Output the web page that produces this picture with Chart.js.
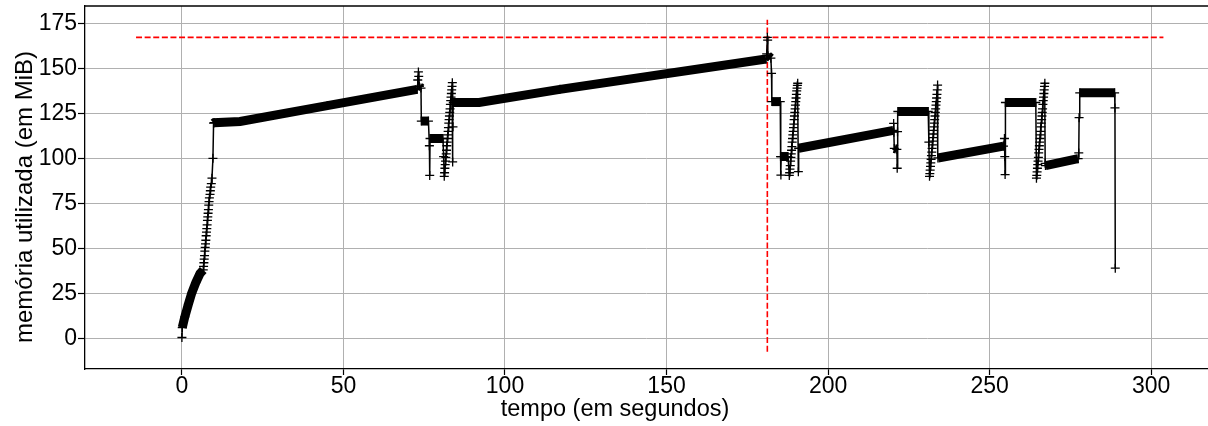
<!DOCTYPE html>
<html lang="pt">
<head>
<meta charset="UTF-8">
<title>Memória utilizada ao longo do tempo</title>
<style>
  body { margin: 0; background: #fff; }
  #wrap { width: 1208px; height: 426px; }
</style>
</head>
<body>
<div id="wrap"><canvas id="memChart" width="1208" height="426"></canvas></div>

<script src="https://cdn.jsdelivr.net/npm/chart.js"></script>
<script>
  // amostras (tempo em s, memória em MiB), por trecho
  const tempoSubida = [0.0, 0.1, 0.9, 2.0, 3.0, 4.3, 5.6, 6.6];
  const memSubida   = [0.5, 6, 12, 19, 25, 31, 36, 38];

  const tempoEscada1 = [6.7, 6.8, 6.9, 7.0, 7.1, 7.2, 7.3, 7.4, 7.5, 7.6, 7.7, 7.8, 7.9, 8.0, 8.1, 8.2, 8.3, 8.4, 8.5, 8.7, 8.8, 8.9, 9.1, 9.3];
  const memEscada1   = [40, 42, 44, 46, 48.5, 50.5, 52.5, 54.5, 57, 59, 61, 63, 65.5, 67.5, 69.5, 71.5, 74, 76, 78, 80, 82, 84, 86, 89];

  const tempoFase1 = [9.6, 9.8, 10.0, 18, 45, 72.8, 73.0, 73.2, 73.3, 73.5, 74.0, 74.1, 76.3, 76.6, 76.7, 76.8, 80.8, 81.0];
  const memFase1   = [100, 119.5, 119.8, 120.5, 129.3, 138.3, 143.5, 148, 145.5, 140, 139, 120.7, 120.7, 107, 90.5, 111, 111, 101];

  const tempoEscada2 = [81.2, 81.3, 81.4, 81.5, 81.6, 81.7, 81.8, 81.9, 82.0, 82.1, 82.2, 82.3, 82.4, 82.5, 82.6, 82.7, 82.8, 82.9, 83.0, 83.1, 83.2, 83.3, 83.4, 83.5, 83.6, 83.7];
  const memEscada2   = [90, 92, 94.5, 96.5, 98.5, 100.5, 102.5, 104.5, 107, 109, 111, 113, 115, 117, 119.5, 121.5, 123.5, 125.5, 127.5, 130, 132, 134, 136, 138, 140, 142];

  const tempoFase2 = [83.8, 83.9, 84.0, 92, 117, 180.8, 181.0, 181.2, 181.3, 181.4, 182.3, 182.5, 182.6, 185.2, 185.3, 185.4, 185.5, 187.6, 188.0];
  const memFase2   = [98, 117.5, 131, 131, 138.3, 155.2, 158, 167.2, 165.7, 157, 155.6, 147.2, 131.5, 131.5, 101, 90.7, 101, 101, 90.5];

  const tempoEscada3 = [188.1, 188.2, 188.3, 188.4, 188.5, 188.6, 188.7, 188.8, 188.9, 189.0, 189.1, 189.2, 189.3, 189.4, 189.5, 189.6, 189.7, 189.8, 189.9, 190.0, 190.1, 190.2, 190.3, 190.4, 190.5, 190.6];
  const memEscada3   = [92, 94, 96, 98.5, 100.5, 102.5, 104.5, 106.5, 109, 111, 113, 115, 117, 119, 121.5, 123.5, 125.5, 127.5, 129.5, 131.5, 133.5, 135.5, 137.5, 139, 140.5, 141.7];

  const tempoFase3 = [190.8, 190.9, 220.2, 220.3, 220.4, 220.5, 221.3, 221.4, 221.5, 221.6, 231.0, 231.2, 231.4];
  const memFase3   = [92.6, 105.6, 115.5, 119.4, 114.5, 105.5, 105, 94.5, 114.8, 126, 126, 109, 90];

  const tempoEscada4 = [231.5, 231.6, 231.7, 231.8, 231.9, 232.0, 232.1, 232.2, 232.3, 232.4, 232.5, 232.6, 232.7, 232.8, 232.9, 233.0, 233.1, 233.2, 233.3, 233.4, 233.5, 233.6, 233.7, 233.8, 233.9];
  const memEscada4   = [91.5, 93.5, 95.5, 97.5, 99.5, 101.5, 103.5, 105.5, 107.5, 109.5, 111.5, 113.5, 115.5, 117.5, 119.5, 121.5, 123.5, 125.5, 127.5, 129.5, 131.5, 133.5, 135.5, 138, 140.7];

  const tempoFase4 = [234.0, 254.3, 254.6, 254.7, 254.8, 254.9, 264.3, 264.5];
  const memFase4   = [100.2, 106.8, 111, 101, 91, 131, 131, 89];

  const tempoEscada5 = [264.6, 264.7, 264.8, 264.9, 265.0, 265.1, 265.2, 265.3, 265.4, 265.5, 265.6, 265.7, 265.8, 265.9, 266.0, 266.1, 266.2, 266.3, 266.4, 266.5, 266.6, 266.7, 266.8, 266.9, 267.0, 267.1];
  const memEscada5   = [90.5, 92.5, 94.5, 96.5, 98.5, 100.5, 103, 105, 107, 109, 111, 113, 115, 117.5, 119.5, 121.5, 123.5, 125.5, 127.5, 130, 132, 134, 136, 138, 140, 141.7];

  const tempoFase5 = [267.2, 267.3, 277.4, 277.6, 277.7, 277.9, 288.7, 288.8, 288.9];
  const memFase5   = [97.2, 96, 99.8, 103, 122.6, 136.4, 136.4, 128, 39];

  // pico de memória (linhas tracejadas vermelhas)
  const picoMem = 167.2;
  const picoTempo = 181.2;
  const linhaHorizX = [-14.2, 303.8];
  const linhaVertY = [-7.4, 176.9];

  const ticksX = [0, 50, 100, 150, 200, 250, 300];
  const ticksY = [0, 25, 50, 75, 100, 125, 150, 175];

  const tituloX = 'tempo (em segundos)';
  const tituloY = 'memória utilizada (em MiB)';

  const tempo = [].concat(tempoSubida, tempoEscada1, tempoFase1, tempoEscada2, tempoFase2,
                          tempoEscada3, tempoFase3, tempoEscada4, tempoFase4, tempoEscada5, tempoFase5);
  const memoria = [].concat(memSubida, memEscada1, memFase1, memEscada2, memFase2,
                            memEscada3, memFase3, memEscada4, memFase4, memEscada5, memFase5);

  const pontos = tempo.map((t, i) => ({ x: t, y: memoria[i] }));

  // borda superior do eixo (estilo matplotlib)
  const molduraTopo = {
    id: 'molduraTopo',
    afterDraw(chart) {
      const { ctx, chartArea: a } = chart;
      ctx.save();
      ctx.strokeStyle = '#000';
      ctx.lineWidth = 1.3;
      ctx.beginPath();
      ctx.moveTo(a.left, a.top);
      ctx.lineTo(a.right, a.top);
      ctx.stroke();
      ctx.restore();
    }
  };

  // títulos dos eixos (no original não ficam centrados na área visível)
  const titulosEixos = {
    id: 'titulosEixos',
    afterDraw(chart) {
      const ctx = chart.ctx;
      ctx.save();
      ctx.fillStyle = '#000';
      ctx.textAlign = 'center';
      ctx.textBaseline = 'middle';
      ctx.font = '23.5px "Liberation Sans", Arial, sans-serif';
      ctx.fillText(tituloX, 615, 410);
      ctx.translate(25, 197);
      ctx.rotate(-Math.PI / 2);
      ctx.font = '24px "Liberation Sans", Arial, sans-serif';
      ctx.fillText(tituloY, 0, 0);
      ctx.restore();
    }
  };

  const fonte = { family: 'Liberation Sans, Arial, sans-serif', size: 23 };

  new Chart(document.getElementById('memChart'), {
    type: 'line',
    data: {
      datasets: [
        {
          data: pontos,
          borderColor: '#000',
          borderWidth: 1.5,
          pointStyle: 'cross',
          pointRadius: 4.5,
          pointBorderWidth: 1.3,
          pointBorderColor: '#000',
          pointBackgroundColor: '#000',
          tension: 0,
          // amostras densas viram uma faixa grossa, trechos íngremes ficam finos
          segment: {
            borderWidth: c => {
              const dx = Math.abs(c.p1.x - c.p0.x);
              const dy = Math.abs(c.p1.y - c.p0.y);
              return dy > 5 * dx ? 1.5 : 9;
            }
          }
        },
        {
          data: linhaHorizX.map(x => ({ x: x, y: picoMem })),
          borderColor: '#ff0000',
          borderWidth: 1.6,
          borderDash: [6, 2.6],
          pointRadius: 0
        },
        {
          data: linhaVertY.map(y => ({ x: picoTempo, y: y })),
          borderColor: '#ff0000',
          borderWidth: 1.6,
          borderDash: [6, 2.6],
          pointRadius: 0
        }
      ]
    },
    options: {
      responsive: false,
      animation: false,
      devicePixelRatio: 1,
      layout: { autoPadding: false, padding: { top: 6, right: 0, left: 0, bottom: 0 } },
      plugins: {
        legend: { display: false },
        tooltip: { enabled: false }
      },
      scales: {
        x: {
          type: 'linear',
          min: -30,
          max: 317.6,
          afterBuildTicks: s => { s.ticks = ticksX.map(v => ({ value: v })); },
          afterFit: s => { s.height = 57; s.paddingLeft = 0; s.paddingRight = 0; },
          grid: { color: '#b0b0b0', lineWidth: 1, tickColor: '#000', tickLength: 6, tickWidth: 1.2 },
          border: { color: '#000', width: 1.3 },
          ticks: { color: '#000', font: { ...fonte, lineHeight: 1 }, padding: 0, maxRotation: 0 },
          title: { display: false }
        },
        y: {
          min: -17,
          max: 184.6,
          afterBuildTicks: s => { s.ticks = ticksY.map(v => ({ value: v })); },
          afterFit: s => { s.width = 85; s.paddingTop = 0; s.paddingBottom = 0; },
          grid: { color: '#b0b0b0', lineWidth: 1, tickColor: '#000', tickLength: 7, tickWidth: 1.2 },
          border: { color: '#000', width: 1.3 },
          ticks: { color: '#000', font: fonte, padding: 1 },
          title: { display: false }
        }
      }
    },
    plugins: [molduraTopo, titulosEixos]
  });
</script>
</body>
</html>
